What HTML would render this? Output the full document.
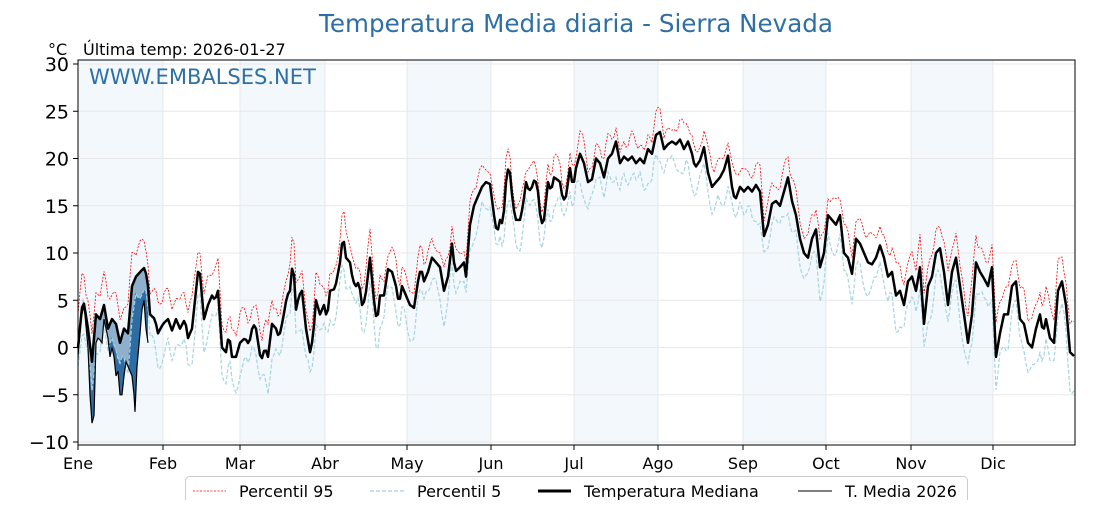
<!DOCTYPE html>
<html><head><meta charset="utf-8"><style>
body{margin:0;background:#fff;width:1120px;height:500px;overflow:hidden;font-family:"Liberation Sans","DejaVu Sans",sans-serif}
</style></head><body>
<svg id="s" width="1120" height="500" xmlns="http://www.w3.org/2000/svg" font-family="DejaVu Sans, Liberation Sans, sans-serif">
<rect width="1120" height="500" fill="#fff"/>
<g id="bands"></g><g id="grid"></g><g id="data"></g>
<rect x="78" y="60" width="997" height="385" fill="none" stroke="#000" stroke-width="1"/>
<g id="ax"></g>
<text x="576" y="32" text-anchor="middle" font-size="24.6" fill="#2e6fa5">Temperatura Media diaria - Sierra Nevada</text>
<text x="48" y="55" font-size="16" fill="#000">°C</text>
<text x="83" y="55" font-size="16" fill="#000">Última temp: 2026-01-27</text>
<text x="89" y="84" font-size="21" fill="#2e6fa5">WWW.EMBALSES.NET</text>
<rect x="185.5" y="476.5" width="782" height="40" rx="4" fill="#fff" stroke="#ccc"/>
<line x1="193" y1="491" x2="226" y2="491" stroke="red" stroke-width="0.8" stroke-dasharray="2,1.5"/>
<text x="239" y="497" font-size="16">Percentil 95</text>
<line x1="370" y1="491" x2="404" y2="491" stroke="#9dd0e0" stroke-width="1.2" stroke-dasharray="4,2"/>
<text x="417" y="497" font-size="16">Percentil 5</text>
<line x1="538" y1="491" x2="571" y2="491" stroke="#000" stroke-width="3"/>
<text x="584" y="497" font-size="16">Temperatura Mediana</text>
<line x1="798" y1="491" x2="832" y2="491" stroke="#000" stroke-width="1"/>
<text x="845" y="497" font-size="16">T. Media 2026</text>
</svg>
<script>
var NS="http://www.w3.org/2000/svg";
function el(p,t,a,txt){var e=document.createElementNS(NS,t);for(var k in a)e.setAttribute(k,a[k]);if(txt!=null)e.textContent=txt;document.getElementById(p).appendChild(e);return e;}
function Y(v){return 347.5-v*9.45;}
var mx=[78,163,240,325,407,491,574,658,743,826,911,993,1075];
var mn=["Ene","Feb","Mar","Abr","May","Jun","Jul","Ago","Sep","Oct","Nov","Dic"];
for(var i=0;i<12;i++){
 if(i%2==0)el("bands","rect",{x:mx[i],y:60,width:mx[i+1]-mx[i],height:385,fill:"#f3f8fc"});
 el("grid","line",{x1:mx[i],x2:mx[i],y1:60,y2:445,stroke:"#e4e8ec","stroke-width":1});
 el("ax","line",{x1:mx[i],x2:mx[i],y1:445,y2:450,stroke:"#000"});
 el("ax","text",{x:mx[i],y:469,"font-size":16,"text-anchor":"middle"},mn[i]);
}
for(var v=-10;v<=30;v+=5){var y=Y(v);
 el("grid","line",{x1:78,x2:1075,y1:y,y2:y,stroke:"#e8e8e8"});
 el("ax","line",{x1:73,x2:78,y1:y,y2:y,stroke:"#000"});
 el("ax","text",{x:69,y:y+7,"font-size":19,"text-anchor":"end"},v<0?"\u2212"+(-v):v);
}
var M=[78,0,83,5.3,88,2,92,-1.5,96,3.5,100,3,104,4.5,108,2,112,3,116,2.5,120,0.5,124,2,128,1.5,132,6.5,136,7.5,142,8.2,145,8.5,148,6.5,150,3.5,155,3,158,1.5,163,2.5,168,3,172,1.8,176,3,180,2,185,3,188,1,192,2,196,6,199,9,204,3,208,4.5,212,5.5,215,5,218,6,222,0,226,-0.5,229,1.5,232,-1,236,-1,240,0.5,245,1,249,0.3,253,2.5,256,2,261,-1.5,265,0,268,-1,272,2.5,276,2,279,1,283,3,287,5.5,290,6,293,9.5,296,4,299,5.5,302,6,306,2,310,-0.5,313,1,316,5,320,3.5,324,4.5,327,3,330,6,335,6.2,340,9,343,12,346,9.5,350,9,353,7,356,6.5,359,7,362,4.5,365,5,370,9.5,374,5,377,2.5,380,5.5,384,5.5,388,8.3,392,8,396,6.5,399,4.5,402,6.5,406,5.5,410,4.5,414,4.2,418,7,421,8.5,424,7,428,8,432,9.5,436,9,440,8.5,444,6,448,7.5,452,11,455,8,460,8.5,464,9,466,7.5,470,13,474,15,478,16,482,17,486,17.5,490,17.3,494,14,497,12,500,13.5,503,13,507,19,510,18.5,513,15,516,13.5,520,13.5,523,15,526,17.5,529,16.5,532,17,535,18,538,16.5,541,13,544,13.5,548,17.5,551,16.5,554,18,557,17.8,560,17.5,563,15.5,566,16,570,19,573,16.8,576,19,580,20.5,584,19.5,588,17.5,592,17.8,596,20,600,19.5,604,18,608,20,612,20.5,616,21.8,620,19.5,624,20.2,628,19.8,632,20.2,636,19.5,640,20,644,19.5,648,21,652,20.5,656,22.5,660,22.8,664,21,668,21.5,672,21.8,676,21.5,680,22,684,21,688,21.8,692,20.5,695,19,700,19.8,704,21.2,708,18.5,712,17,716,17.5,720,18,724,18.8,728,20.3,732,17,735,15.5,740,17,744,16.5,748,17,752,16.5,756,17.2,760,16.5,764,11.8,768,13,772,15.2,776,15.5,780,15,784,16.5,788,18,792,15.5,796,14,800,11.5,804,10,808,9.5,812,11.5,816,12.5,820,8.5,824,10,828,14,832,13.5,836,13,840,14,844,10,848,9.5,852,7.8,856,11.5,860,11,864,10,868,9,872,8.8,876,9.5,880,10.8,884,9.5,888,7.5,892,8,896,5.5,900,6,904,4.5,908,7,912,7.5,916,6,920,8.5,924,2.5,928,6.5,932,7.5,936,10,940,10.5,944,8,948,4.5,952,8,956,9.5,960,6.5,964,3.5,968,0.5,972,3.5,976,9,980,8,984,7.3,988,6.5,992,8.5,996,-1,1000,1.5,1004,3.5,1008,3.5,1012,6.5,1016,7,1020,3,1024,2.5,1028,0.5,1032,0,1036,2,1040,3.5,1043,1.5,1046,3,1050,1,1054,0.5,1058,6,1062,7,1066,4.5,1070,-0.5,1075,-1];
var T=[78,-1,81,3,84,4.5,88,0,90,-5,92,-8,94,-7.2,96,0.5,98,1,100,0.8,102,0.5,104,3,106,2,108,1,110,-1,112,0,114,-1,116,-3,118,-2.5,120,-5,122,-5,124,-3,126,-1.5,128,-2,130,-2.5,132,-3,134,-5,135,-6.8,137,-2,140,1.5,142,4,144,5,146,2,148,0.5];
function interp(A,x){for(var i=0;i<A.length-2;i+=2){if(x>=A[i]&&x<=A[i+2]){var t=(x-A[i])/(A[i+2]-A[i]);return A[i+1]+t*(A[i+3]-A[i+1]);}}return A[A.length-1];}
var med=[],p95=[],p5=[],xs=[];
for(var x=78;x<=1075;x+=2){xs.push(x);var m=interp(M,x);med.push(m);
 var sea=Math.cos((x-78)/997*2*Math.PI);
 var n1=Math.sin(x*0.37)*0.9+Math.sin(x*0.13+1)*0.8;
 var n2=Math.sin(x*0.29+2)*1.2+Math.sin(x*0.11)*1.0;
 p95.push(m+1.6+0.6*sea+Math.abs(n1)*1.0);
 p5.push(m-1.6-0.2*sea-Math.abs(n2)*1.1);}
function path(X,V){return X.map(function(x,i){return(i?"L":"M")+x+","+Y(V[i]).toFixed(1);}).join("");}
var tx=[],tv=[],tm=[],tp=[];
for(var x=78;x<=148;x+=1){tx.push(x);tv.push(interp(T,x));var m=interp(M,x);tm.push(m);var i=Math.round((x-78)/2);tp.push(Math.min(p5[i],m));}
var d1="M"+tx.map(function(x,i){return x+","+Y(tm[i]).toFixed(1)}).join("L")+"L"+tx.slice().reverse().map(function(x,i){var j=tx.length-1-i;return x+","+Y(Math.min(tv[j],tm[j])).toFixed(1)}).join("L")+"Z";
el("data","path",{d:d1,fill:"#8fb0cd"});
var d2="M"+tx.map(function(x,i){return x+","+Y(tp[i]).toFixed(1)}).join("L")+"L"+tx.slice().reverse().map(function(x,i){var j=tx.length-1-i;return x+","+Y(Math.min(tv[j],tp[j])).toFixed(1)}).join("L")+"Z";
el("data","path",{d:d2,fill:"#2e6da4"});
el("data","path",{d:path(xs,p95),fill:"none",stroke:"red","stroke-width":0.8,"stroke-dasharray":"2,1.5"});
el("data","path",{d:path(xs,p5),fill:"none",stroke:"#a6d4e2","stroke-width":1.2,"stroke-dasharray":"4,2"});
el("data","path",{d:path(xs,med),fill:"none",stroke:"#000","stroke-width":2.5,"stroke-linejoin":"round"});
el("data","path",{d:path(tx,tv),fill:"none",stroke:"#000","stroke-width":1.2});
</script>
</body></html>
